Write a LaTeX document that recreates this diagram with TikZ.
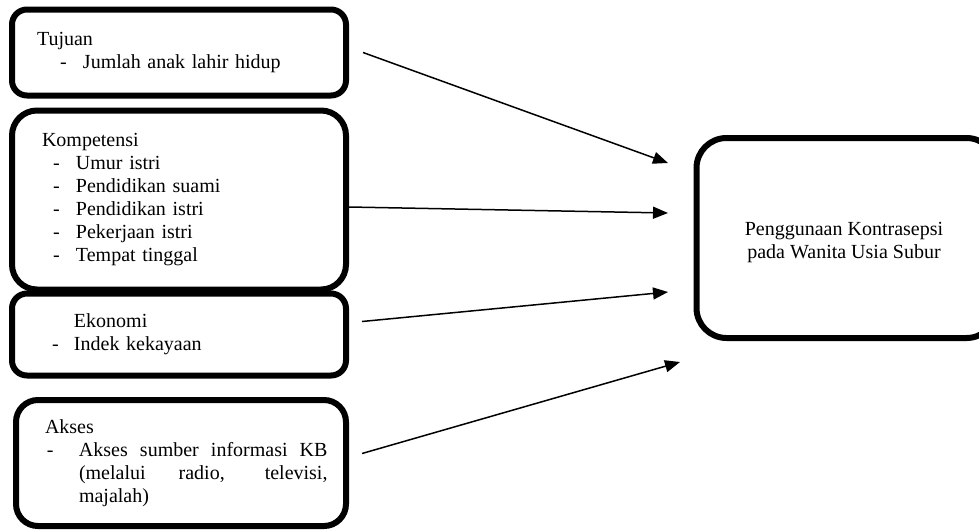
\documentclass[tikz,border=0pt]{standalone}
\usepackage{fontspec}
\setmainfont{Liberation Serif}
\usepackage{tikz}
\usetikzlibrary{arrows.meta}

\newcommand{\fs}{\fontsize{20}{23}\selectfont}
\newcommand{\ditem}[3][23pt]{\hspace*{#2}\makebox[#1][l]{-}#3}

\begin{document}
\begin{tikzpicture}[
    x=1pt, y=-1pt,
    fac/.style={draw, line width=6pt, inner sep=0pt, text width=334pt,
                align=left, font=\fs},
    outc/.style={draw, line width=6pt, rounded corners=30pt, minimum width=300pt,
                 minimum height=200pt},
    arr/.style={-{Triangle[length=15pt,width=12pt]}, line width=1.5pt}
  ]
  \useasboundingbox (0,0) rectangle (979,531);
  \clip (0,0) rectangle (979,531);

  % factor boxes
  \node[fac, rounded corners=15pt, minimum height=86pt] (tuj) at (179,52.5)
    {\hspace*{25pt}Tujuan\\\ditem{48pt}{Jumlah anak lahir hidup}};
  \node[fac, rounded corners=25pt, minimum height=179pt] (komp) at (179,200)
    {\hspace*{30pt}Kompetensi\\\ditem{41pt}{Umur istri}\\\ditem{41pt}{Pendidikan suami}\\
     \ditem{41pt}{Pendidikan istri}\\\ditem{41pt}{Pekerjaan istri}\\\ditem{41pt}{Tempat tinggal}};
  \node[fac, rounded corners=15pt, minimum height=82pt] (eko) at (179,334.5)
    {\hspace*{62pt}Ekonomi\\\ditem[22pt]{40pt}{Indek kekayaan}};
  \node[fac, rounded corners=22pt, minimum height=126pt, text width=330pt, align=justify] (aks) at (181,463)
    {\tolerance=10000\hbadness=10000\hyphenpenalty=10000%
     \leftskip=29pt\rightskip=18.5pt Akses\par
     \leftskip=31pt\hangindent=32pt\hangafter=1\noindent\makebox[32pt][l]{-}Akses sumber informasi KB\linebreak
     (melalui radio, televisi,\linebreak majalah)\par};

  % outcome (runs past the right margin)
  \node[outc, label={[xshift=-2.5pt, yshift=-4pt, align=center, font=\fs]center:Penggunaan Kontrasepsi\\pada Wanita Usia Subur}]
    (pk) at (846.5,238) {};

  \coordinate (in1) at (668,163);
  \coordinate (in2) at (668,213);
  \coordinate (in3) at (668,292);
  \coordinate (in4) at (680,362);

  \draw[arr] ([xshift=14pt]tuj.east) -- (in1);
  \draw[arr] ([yshift=-7pt]komp.east) -- (in2);
  \draw[arr] ([xshift=13pt,yshift=13pt]eko.east) -- (in3);
  \draw[arr] ([xshift=13pt,yshift=9.5pt]aks.east) -- (in4);
\end{tikzpicture}
\end{document}
